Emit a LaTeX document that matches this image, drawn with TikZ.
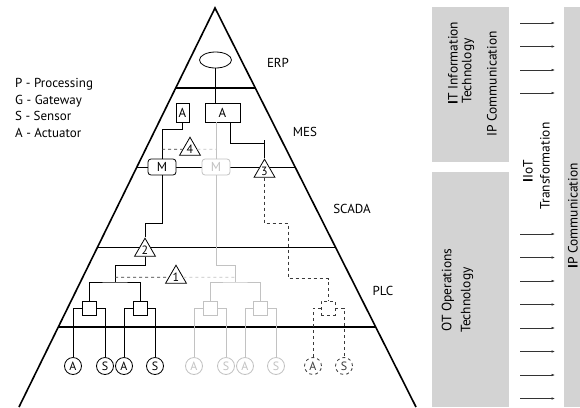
\documentclass[tikz,border=0pt]{standalone}
\usepackage{fontspec}
\setmainfont{PT Sans}
\usetikzlibrary{arrows.meta,positioning,shapes.geometric,calc}
\definecolor{PanelGrey}{HTML}{D3D3D3}
\definecolor{FaintGrey}{HTML}{C2C2C2}
\definecolor{DashGrey}{HTML}{3A3A3A}
\tikzset{
  layer/.style={line width=1.6pt, line join=miter},
  link/.style={line width=0.8pt},
  faint/.style={line width=0.8pt, draw=FaintGrey, text=FaintGrey},
  dashlink/.style={line width=0.8pt, draw=DashGrey, text=DashGrey, dashed},
  unitbox/.style={draw, fill=white, rounded corners=3pt, minimum width=28pt,
    minimum height=16pt, inner sep=0pt, line width=0.8pt},
  actbox/.style={draw, fill=white, minimum height=19pt, inner sep=0pt, line width=0.8pt},
  gw/.style={draw, fill=white, regular polygon, regular polygon sides=3,
    minimum size=23pt, inner sep=0pt, line width=0.8pt,
    font=\fontsize{12}{12}\selectfont},
  proc/.style={draw, fill=white, minimum size=14pt, inner sep=0pt, line width=0.8pt},
  field/.style={draw, circle, fill=white, minimum size=17pt, inner sep=0pt,
    line width=0.8pt, font=\fontsize{12}{12}\selectfont},
  lvl/.style={font=\fontsize{13}{15}\selectfont},
  sidetext/.style={rotate=90, font=\fontsize{13.5}{15}\selectfont},
  panel/.style={fill=PanelGrey},
  flow/.style={-{Latex[length=3.5pt,width=2.6pt]}, line width=0.6pt, draw=black!80}
}
\begin{document}
\begin{tikzpicture}[x=1pt, y=-1pt, font=\fontsize{13}{15}\selectfont]
  \useasboundingbox (0,0) rectangle (580,407);

  % pyramid and layers
  \coordinate (apex) at (215,8);
  \coordinate (bl) at (19,407);
  \coordinate (br) at (416,407);
  \draw[layer] (bl) -- (apex) -- (br);
  \foreach \f in {0.2,0.4,0.6,0.8}
    \draw[layer] ($(apex)!\f!(bl)$) -- ($(apex)!\f!(br)$);

  \node[lvl] (erpLabel) at (278,63) {ERP};
  \node[lvl] (mesLabel) at (305,132) {MES};
  \node[lvl] (scadaLabel) at (352,209) {SCADA};
  \node[lvl] (plcLabel) at (383,291) {PLC};

  \node[anchor=north west, align=left, inner sep=0pt,
    font=\fontsize{13}{16.7}\selectfont] (legend) at (15,78)
    {P - Processing\\G - Gateway\\S - Sensor\\A - Actuator};

  % ERP / MES
  \node[draw, ellipse, minimum width=32pt, minimum height=16pt, inner sep=0pt,
    line width=0.8pt] (erp) at (215.5,60) {};
  \node[actbox, minimum width=13pt] (actL) at (182.5,112.5) {A};
  \node[actbox, minimum width=35pt] (actR) at (222.5,112.5) {A};
  \node[unitbox] (mBlack) at (162,167) {M};
  \node[unitbox, faint] (mGray) at (216,167) {M};
  \node[gw] (gw4) at (190,149.3) {4};
  \node[gw] (gw3) at (264.5,171.3) {3};
  \coordinate (tick3) at (264.5,140);

  \draw[link] (erp.south) -- (erp.south |- actR.north);
  \draw[faint] (mGray.north |- actR.south) -- (mGray.north);
  \draw[link] (actL.south) -- ++(0,7) -| (mBlack.north);
  \draw[dashlink] (mBlack.north |- gw4.center) -- (gw4.west);
  \draw[faint, dashed] (gw4.east) -- (mGray.north |- gw4.center);
  \draw[link] ([xshift=8pt]actR.south) |- ([yshift=-3pt]tick3);
  \draw[link] (tick3) -- (gw3.corner 1);

  % SCADA / PLC
  \node[gw] (gw2) at (145,250.3) {2};
  \node[gw] (gw1) at (176,277.3) {1};
  \coordinate (jBlack) at (115,282);
  \coordinate (jGray) at (235,282);

  \draw[link] (mBlack.south) -- ++(0,48) -| (gw2.corner 1);
  \draw[link] (gw2.side 2) -- ++(0,9) -| (jBlack);
  \draw[dashlink] (jBlack |- gw1.center) -- (gw1.west);
  \draw[faint] (mGray.south) -- ++(0,90) -| (jGray);
  \draw[faint, dashed] (gw1.east) -- (jGray |- gw1.center);

  \node[proc] (proc1) at (89.5,308) {};
  \node[proc] (proc2) at (140,308) {};
  \node[proc, faint] (proc3) at (210,308) {};
  \node[proc, faint] (proc4) at (260,308) {};
  \node[proc, dashlink] (proc5) at (328,308) {};

  \draw[link] (proc1.north) |- (jBlack) -| (proc2.north);
  \draw[faint] (proc3.north) |- (jGray) -| (proc4.north);
  \draw[dashlink] (gw3.side 2) -- ++(0,46) -- ++(24,0) -- ++(0,55) -| (proc5.north);

  % field devices
  \node[field] (act1) at (73,366) {A};
  \node[field] (sen1) at (105,366) {S};
  \node[field] (act2) at (124,366) {A};
  \node[field] (sen2) at (155,366) {S};
  \node[field, faint] (act3) at (194,366) {A};
  \node[field, faint] (sen3) at (226,366) {S};
  \node[field, faint] (act4) at (245,366) {A};
  \node[field, faint] (sen4) at (276,366) {S};
  \node[field, dashlink] (act5) at (313,366) {A};
  \node[field, dashlink] (sen5) at (344,366) {S};

  \draw[link] (proc1.west) -| (act1.north);
  \draw[link] (proc1.east) -| (sen1.north);
  \draw[link] (proc2.west) -| (act2.north);
  \draw[link] (proc2.east) -| (sen2.north);
  \draw[faint] (proc3.west) -| (act3.north);
  \draw[faint] (proc3.east) -| (sen3.north);
  \draw[faint] (proc4.west) -| (act4.north);
  \draw[faint] (proc4.east) -| (sen4.north);
  \draw[dashlink] (proc5.west) -| (act5.north);
  \draw[dashlink] (proc5.east) -| (sen5.north);

  % IT / OT panels
  \fill[panel] (432,7) rectangle (509,162);
  \fill[panel] (432,172) rectangle (509,407);
  \fill[panel] (564,7) rectangle (580,407);

  \node[sidetext] (itLine1) at (453,63) {\textbf{I}T Information};
  \node[sidetext] (itLine2) at (468,71) {Technology};
  \node[sidetext] (itLine3) at (492,84) {IP Communication};
  \node[sidetext] (iiotLine1) at (528,171) {\textbf{I}IoT};
  \node[sidetext] (iiotLine2) at (545,166) {Transformation};
  \node[sidetext] (otLine1) at (448,290) {OT Operations};
  \node[sidetext] (otLine2) at (467,300) {Technology};
  \node[sidetext] (ipLine) at (573,216) {\textbf{I}P Communication};

  \foreach \y in {23,46.5,70,93,234,257.5,281,304.5,328,351.5,375,398.5}
    \draw[flow] (520,\y) -- (555,\y);
\end{tikzpicture}
\end{document}
